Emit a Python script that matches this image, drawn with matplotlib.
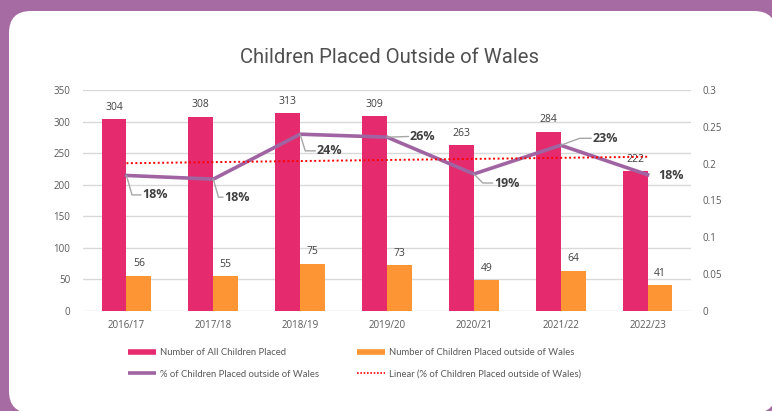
import matplotlib
matplotlib.use("Agg")
import matplotlib.pyplot as plt
import numpy as np
from matplotlib.patches import FancyBboxPatch
from matplotlib.lines import Line2D

# data
years = ["2016/17", "2017/18", "2018/19", "2019/20", "2020/21", "2021/22", "2022/23"]
all_placed = [304, 308, 313, 309, 263, 284, 222]
outside_wales = [56, 55, 75, 73, 49, 64, 41]
pct_outside = [0.184, 0.179, 0.240, 0.236, 0.186, 0.225, 0.185]
pct_labels = ["18%", "18%", "24%", "26%", "19%", "23%", "18%"]

# label placement (offset points) and leader style, per point
lbl_offsets = [(11.5, -14), (8, -13), (12, -12), (16.5, 0.5), (14.5, -6.5), (23, 5), (8, -0.7)]
lbl_conns = ["angle,angleA=0,angleB=-74,rad=0", "angle,angleA=0,angleB=-74,rad=0",
             "angle,angleA=0,angleB=-73,rad=0", "arc3,rad=0",
             "angle,angleA=0,angleB=-45,rad=0", "angle,angleA=0,angleB=20,rad=0", None]

PINK = "#e52b6e"
ORANGE = "#fd9535"
PURPLE = "#a064a2"
BG = "#a66ba2"
TXT = "#595959"

fig = plt.figure(figsize=(7.72, 4.11), dpi=100)
fig.patch.set_facecolor(BG)

card = FancyBboxPatch((0.09, -0.02), 7.67, 4.02,
                      boxstyle="round,pad=0,rounding_size=0.22",
                      transform=fig.dpi_scale_trans, facecolor="white",
                      edgecolor="none", zorder=0)
fig.add_artist(card)

W, H = 772, 411
ax = fig.add_axes([83 / W, (H - 311) / H, 608 / W, 221 / H])
ax.set_facecolor("none")
ax2 = ax.twinx()

x = np.arange(len(years))
bw = 0.287
ax.bar(x - bw / 2, all_placed, bw, color=PINK, zorder=3)
ax.bar(x + bw / 2, outside_wales, bw, color=ORANGE, zorder=3)

for i in range(len(years)):
    ax.annotate(str(all_placed[i]), (x[i] - bw / 2, all_placed[i]), xytext=(0, 8.5),
                textcoords="offset points", ha="center", va="center",
                fontsize=7.5, color="#404040", family="Open Sans")
    ax.annotate(str(outside_wales[i]), (x[i] + bw / 2, outside_wales[i]), xytext=(0, 8.5),
                textcoords="offset points", ha="center", va="center",
                fontsize=7.5, color="#404040", family="Open Sans")

ax.set_xlim(-0.5, len(years) - 0.5)
ax.set_ylim(0, 350)
ax.set_yticks(range(0, 351, 50))
ax.grid(axis="y", color="#d9d9d9", lw=1, zorder=0)
ax.set_axisbelow(True)
ax.set_xticks(x)
ax.set_xticklabels(years)

ax2.set_ylim(0, 0.3)
ax2.set_yticks([0, 0.05, 0.1, 0.15, 0.2, 0.25, 0.3])
ax2.set_yticklabels(["0", "0.05", "0.1", "0.15", "0.2", "0.25", "0.3"])

for a in (ax, ax2):
    for s in a.spines.values():
        s.set_visible(False)
    a.tick_params(length=0, colors=TXT, labelsize=7)
    for t in a.get_xticklabels() + a.get_yticklabels():
        t.set_family("Open Sans")
ax.tick_params(axis="y", pad=9)
ax.tick_params(axis="x", pad=6.5)
ax2.tick_params(axis="y", pad=8)

ax2.plot(x, pct_outside, color=PURPLE, lw=2.6, zorder=4)
coef = np.polyfit(x, pct_outside, 1)
ax2.plot(x, np.polyval(coef, x), color="#ff0000", lw=1.4, ls=(0, (1, 1.3)), zorder=4)

for i in range(len(years)):
    if lbl_conns[i] is None:
        arrow = None
    else:
        arrow = dict(arrowstyle="-", color="#a6a6a6", lw=1,
                     connectionstyle=lbl_conns[i],
                     relpos=(0, 0.5), shrinkA=1, shrinkB=0, patchA=None)
    ax2.annotate(pct_labels[i], (x[i], pct_outside[i]), xytext=lbl_offsets[i],
                 textcoords="offset points", ha="left", va="center",
                 fontsize=9, fontweight="bold", color="#404040",
                 family="Open Sans", arrowprops=arrow, zorder=5)

fig.text(389 / W, (H - 57) / H, "Children Placed Outside of Wales", ha="center", va="center",
         fontsize=14.6, color="#505050", family="Roboto")

handles = [
    Line2D([], [], color=PINK, lw=4, solid_capstyle="butt"),
    Line2D([], [], color=PURPLE, lw=2.6, solid_capstyle="butt"),
    Line2D([], [], color=ORANGE, lw=4, solid_capstyle="butt"),
    Line2D([], [], color="#ff0000", lw=1.2, ls=(0, (1, 1))),
]
labels = ["Number of All Children Placed", "% of Children Placed outside of Wales",
          "Number of Children Placed outside of Wales",
          "Linear (% of Children Placed outside of Wales)"]
leg = fig.legend(handles, labels, ncol=2, loc="upper left",
                 bbox_to_anchor=(128 / W, (H - 348) / H), frameon=False,
                 prop={"family": "Lato", "size": 6.8}, handlelength=3.0,
                 handletextpad=0.4, columnspacing=4.0, labelspacing=1.35, borderpad=0,
                 borderaxespad=0)
for t in leg.get_texts():
    t.set_color(TXT)

fig.savefig("out.png", dpi=100, facecolor=fig.get_facecolor())
